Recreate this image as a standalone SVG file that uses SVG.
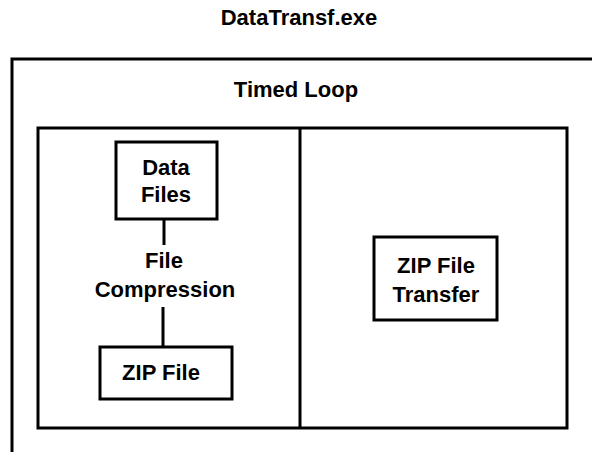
<svg xmlns="http://www.w3.org/2000/svg" width="592" height="452" viewBox="0 0 592 452">
<style>
.b{fill:none;stroke:#000;stroke-width:3}
.t{font-family:"Liberation Sans",Arial,sans-serif;font-weight:bold;font-size:22px;fill:#000;text-anchor:middle}
.c{stroke:#000;stroke-width:3;fill:none}
</style>
<rect width="592" height="452" fill="#fff"/>
<text class="t" x="299" y="25">DataTransf.exe</text>
<g id="app">
<rect class="b" x="12" y="59" width="600" height="420"/>
<text class="t" x="296" y="97">Timed Loop</text>
</g>
<g id="loop">
<rect class="b" x="38" y="128" width="529" height="300"/>
<line class="c" x1="300" y1="128" x2="300" y2="428"/>
</g>
<g id="datafiles">
<rect class="b" x="116" y="142" width="101" height="77"/>
<text class="t" x="166" y="175">Data</text>
<text class="t" x="166" y="202">Files</text>
</g>
<g id="zipfile">
<rect class="b" x="100" y="347" width="132" height="52"/>
<text class="t" x="161" y="380">ZIP File</text>
</g>
<g id="ziptransfer">
<rect class="b" x="374" y="237" width="123" height="83"/>
<text class="t" x="436" y="273">ZIP File</text>
<text class="t" x="436" y="302">Transfer</text>
</g>
<g id="connectors">
<line class="c" x1="164" y1="219" x2="164" y2="245"/>
<line class="c" x1="163" y1="307" x2="163" y2="347"/>
<text class="t" x="164" y="268">File</text>
<text class="t" x="165" y="297">Compression</text>
</g>
</svg>
